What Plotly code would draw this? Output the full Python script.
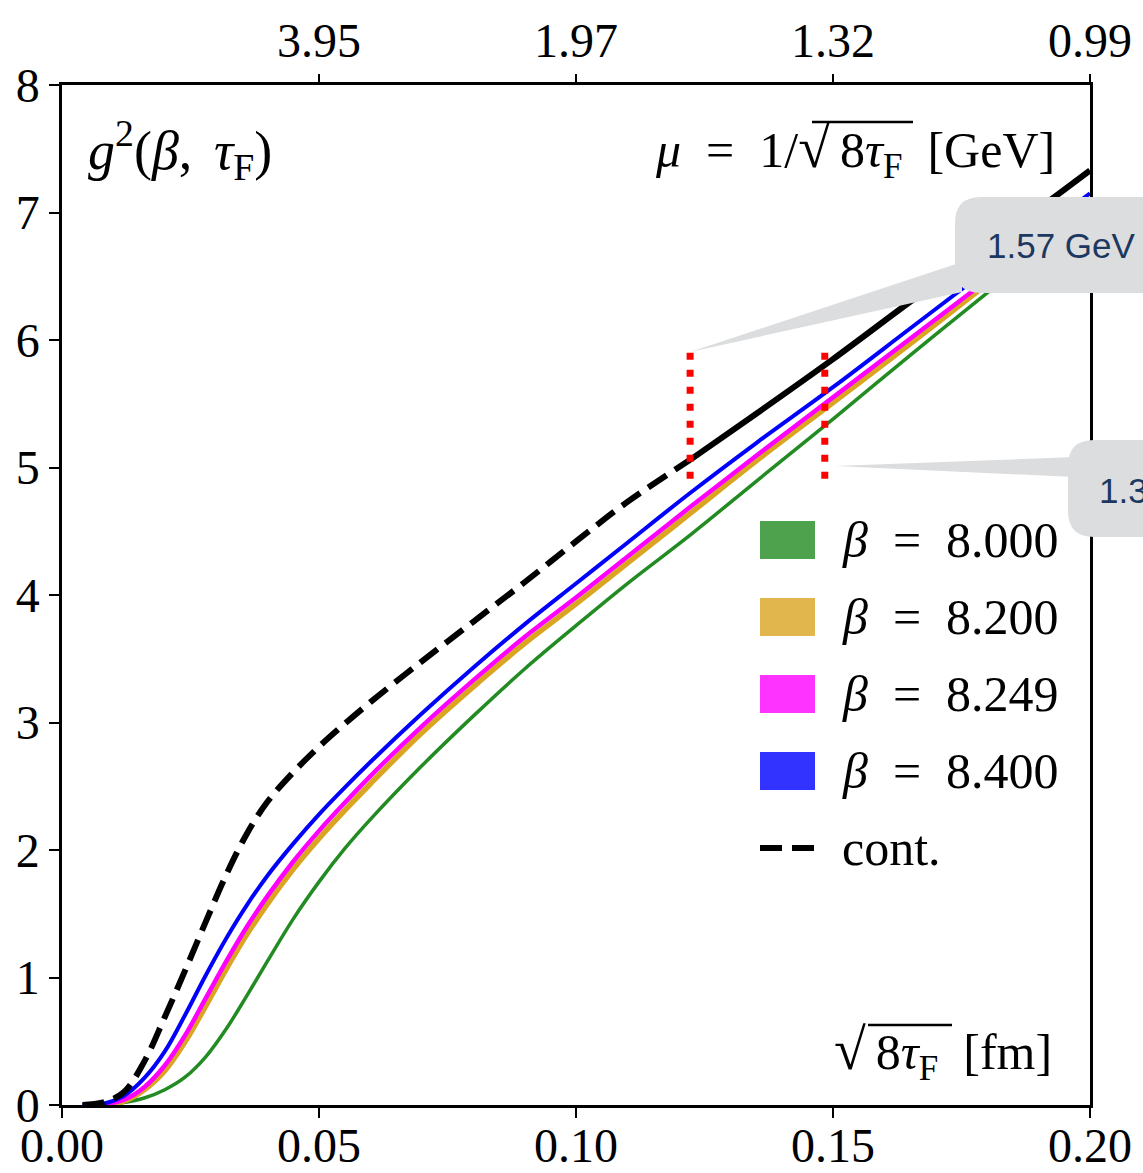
import plotly.graph_objects as go

# ---------------- data ----------------
tau_x = [0.004, 0.008, 0.012, 0.016, 0.020, 0.024, 0.028, 0.032, 0.036, 0.040,
         0.045, 0.050, 0.055, 0.060, 0.070, 0.080, 0.090, 0.100, 0.110, 0.1222,
         0.135, 0.150, 0.165, 0.180, 0.190, 0.200]

g2_b8000 = [0.0, 0.004, 0.02, 0.055, 0.12, 0.22, 0.38, 0.60, 0.86, 1.13,
            1.46, 1.75, 2.01, 2.24, 2.66, 3.05, 3.42, 3.76, 4.09, 4.47,
            4.89, 5.38, 5.88, 6.37, 6.70, 7.02]
g2_b8200 = [0.0, 0.004, 0.03, 0.12, 0.27, 0.50, 0.78, 1.07, 1.34, 1.58,
            1.85, 2.09, 2.31, 2.52, 2.92, 3.28, 3.62, 3.93, 4.25, 4.64,
            5.05, 5.51, 5.97, 6.44, 6.75, 7.06]
g2_b8249 = [0.0, 0.005, 0.04, 0.14, 0.31, 0.55, 0.84, 1.13, 1.40, 1.64,
            1.91, 2.15, 2.37, 2.58, 2.97, 3.33, 3.67, 3.98, 4.30, 4.69,
            5.09, 5.55, 6.01, 6.47, 6.78, 7.09]
g2_b8400 = [0.0, 0.01, 0.07, 0.21, 0.42, 0.71, 1.02, 1.31, 1.57, 1.80,
            2.05, 2.28, 2.49, 2.69, 3.07, 3.43, 3.77, 4.09, 4.41, 4.80,
            5.19, 5.63, 6.09, 6.55, 6.85, 7.15]

cont_x_dashed = [0.004, 0.008, 0.012, 0.016, 0.020, 0.024, 0.028, 0.032, 0.036, 0.040,
                 0.045, 0.050, 0.055, 0.060, 0.070, 0.080, 0.090, 0.100, 0.110, 0.1222]
cont_y_dashed = [0.0, 0.02, 0.10, 0.34, 0.69, 1.06, 1.44, 1.81, 2.13, 2.38,
                 2.61, 2.81, 2.99, 3.16, 3.48, 3.79, 4.10, 4.42, 4.73, 5.06]
cont_x_solid = [0.1222, 0.135, 0.150, 0.165, 0.180, 0.190, 0.200]
cont_y_solid = [5.06, 5.42, 5.85, 6.30, 6.74, 7.03, 7.33]

marker_x = [0.1222, 0.1484]          # red dotted markers
marker_y = [4.85, 5.90]

series_labels = ["8.000", "8.200", "8.249", "8.400"]
series_colors = ["#228B22", "#DAA520", "#FF00FF", "#0000FF"]
patch_colors = ["rgba(34,139,34,0.8)", "rgba(218,165,32,0.8)",
                "rgba(255,0,255,0.8)", "rgba(0,0,255,0.8)"]
series_widths = [3.5, 5.5, 4.5, 4]
series_values = [g2_b8000, g2_b8200, g2_b8249, g2_b8400]

bottom_ticks = [0.00, 0.05, 0.10, 0.15, 0.20]
bottom_ticktext = ["0.00", "0.05", "0.10", "0.15", "0.20"]
top_ticks = [0.05, 0.10, 0.15, 0.20]
top_ticktext = ["3.95", "1.97", "1.32", "0.99"]
y_ticks = [0, 1, 2, 3, 4, 5, 6, 7, 8]

callout_text = ["1.57 GeV", "1.33 GeV"]

# ---------------- layout helpers (pixel -> paper) ----------------
L, R, T, B = 62, 1090, 85, 1105
def PX(px):
    return (px - L) / (R - L)
def PY(py):
    return (B - py) / (B - T)

SERIF = "Liberation Serif"
FS = 48
EN = "\u2002"
TH = "\u2009"

fig = go.Figure()

for lab, col, w, vals in zip(series_labels, series_colors, series_widths, series_values):
    fig.add_trace(go.Scatter(x=tau_x, y=vals, mode="lines", name="β = " + lab,
                             line=dict(color=col, width=w, shape="spline", smoothing=1.0),
                             showlegend=False))

fig.add_trace(go.Scatter(x=cont_x_dashed, y=cont_y_dashed, mode="lines", name="cont.",
                         line=dict(color="black", width=6, dash="22px,10px",
                                   shape="spline", smoothing=1.0),
                         showlegend=False))
fig.add_trace(go.Scatter(x=cont_x_solid, y=cont_y_solid, mode="lines", name="cont. (solid)",
                         line=dict(color="black", width=6, shape="spline", smoothing=1.0),
                         showlegend=False))

for mx in marker_x:
    fig.add_trace(go.Scatter(x=[mx, mx], y=marker_y[::-1], mode="lines",
                             line=dict(color="#FF0000", width=7, dash="7px,10px"),
                             showlegend=False, hoverinfo="skip"))

# invisible trace to anchor the top axis
fig.add_trace(go.Scatter(x=[top_ticks[0], top_ticks[-1]], y=[None, None], xaxis="x2",
                         mode="lines", showlegend=False, hoverinfo="skip"))

axis_font = dict(family=SERIF, size=FS, color="black")
fig.update_layout(
    width=1143, height=1173,
    margin=dict(l=L, r=1143 - R, t=T, b=1173 - B, autoexpand=False),
    paper_bgcolor="white", plot_bgcolor="white",
    showlegend=False,
    xaxis=dict(range=[0, 0.2], tickvals=bottom_ticks, ticktext=bottom_ticktext,
               showgrid=False, zeroline=False, showline=True, linecolor="black",
               linewidth=2.5, mirror=True, ticks="outside", ticklen=10, tickwidth=2,
               tickcolor="black", tickfont=axis_font, automargin=False,
               ticklabelstandoff=-13),
    xaxis2=dict(range=[0, 0.2], overlaying="x", side="top", tickvals=top_ticks,
                ticktext=top_ticktext, showgrid=False, zeroline=False, showline=False,
                ticks="outside", ticklen=10, tickwidth=2, tickcolor="black",
                tickfont=axis_font, automargin=False, ticklabelstandoff=-2),
    yaxis=dict(range=[0, 8], tickvals=y_ticks, showgrid=False, zeroline=False,
               showline=True, linecolor="black", linewidth=2.5, mirror=True,
               ticks="outside", ticklen=10, tickwidth=2, tickcolor="black",
               tickfont=axis_font, automargin=False),
)

ann = []
shapes = []

# corner labels
ann.append(dict(xref="paper", yref="paper", x=PX(86), y=PY(150), xanchor="left",
                yanchor="middle", showarrow=False,
                text="<i>g</i><sup>2</sup>(<i>β</i>," + TH + TH + "<i>τ</i><sub>F</sub>)",
                font=dict(family=SERIF, size=54, color="black")))
ann.append(dict(xref="paper", yref="paper", x=PX(1057), y=PY(150), xanchor="right",
                yanchor="middle", showarrow=False,
                text="<i>μ</i>" + EN + "=" + EN + "1/<span style='font-size:58px'>√</span>"
                     + TH + "8<i>τ</i><sub>F</sub>" + EN + "[GeV]",
                font=dict(family=SERIF, size=50, color="black")))
ann.append(dict(xref="paper", yref="paper", x=PX(1054), y=PY(1052), xanchor="right",
                yanchor="middle", showarrow=False,
                text="<span style='font-size:58px'>√</span>" + TH
                     + "8<i>τ</i><sub>F</sub>" + EN + "[fm]",
                font=dict(family=SERIF, size=50, color="black")))
# vinculum bars of the square roots
shapes.append(dict(type="line", xref="paper", yref="paper", x0=PX(812), x1=PX(913),
                   y0=PY(122), y1=PY(122), line=dict(color="black", width=2.5)))
shapes.append(dict(type="line", xref="paper", yref="paper", x0=PX(868), x1=PX(952),
                   y0=PY(1025), y1=PY(1025), line=dict(color="black", width=2.5)))

# manual legend
row_y = [540, 617, 694, 771, 848]
for i, (lab, pc) in enumerate(zip(series_labels, patch_colors)):
    yc = row_y[i]
    shapes.append(dict(type="rect", xref="paper", yref="paper", x0=PX(760), x1=PX(815),
                       y0=PY(yc + 19), y1=PY(yc - 19), fillcolor=pc, line=dict(width=0)))
    ann.append(dict(xref="paper", yref="paper", x=PX(840), y=PY(yc), xanchor="left",
                    yanchor="middle", showarrow=False,
                    text="<i>β</i>" + EN + "=" + EN + lab,
                    font=dict(family=SERIF, size=50, color="black")))
shapes.append(dict(type="line", xref="paper", yref="paper", x0=PX(760), x1=PX(815),
                   y0=PY(row_y[4]), y1=PY(row_y[4]),
                   line=dict(color="black", width=6, dash="22px,10px")))
ann.append(dict(xref="paper", yref="paper", x=PX(840), y=PY(row_y[4]), xanchor="left",
                yanchor="middle", showarrow=False, text="cont.",
                font=dict(family=SERIF, size=50, color="black")))

# callouts
def rrect(x0, y0, x1, y1, r):
    a, b, c, d = PX(x0), PX(x1), PY(y0), PY(y1)
    rx = r / (R - L)
    ry = r / (B - T)
    return (f"M{a+rx},{c} L{b-rx},{c} Q{b},{c} {b},{c-ry} L{b},{d+ry} Q{b},{d} {b-rx},{d} "
            f"L{a+rx},{d} Q{a},{d} {a},{d+ry} L{a},{c-ry} Q{a},{c} {a+rx},{c} Z")

GREY = "#DCDDDF"
boxes = [(955, 197, 1190, 293), (1068, 440, 1300, 537)]
wedges = [[(690, 352), (962, 262), (962, 292)], [(835, 466), (1075, 457), (1075, 477)]]
text_pos = [(985, 245), (1097, 490)]
for (bx0, by0, bx1, by1), wd, (tx, ty), txt in zip(boxes, wedges, text_pos, callout_text):
    p = "M" + " L".join(f"{PX(a)},{PY(b)}" for a, b in wd) + " Z"
    shapes.append(dict(type="path", xref="paper", yref="paper", path=p,
                       fillcolor=GREY, line=dict(width=0)))
    shapes.append(dict(type="path", xref="paper", yref="paper",
                       path=rrect(bx0, by0, bx1, by1, 26), fillcolor=GREY, line=dict(width=0)))
    ann.append(dict(xref="paper", yref="paper", x=PX(tx), y=PY(ty), xanchor="left",
                    yanchor="middle", showarrow=False, text=txt,
                    font=dict(family="Liberation Sans", size=35, color="#1C3860")))

fig.update_layout(annotations=ann, shapes=shapes)
fig.write_html("out.html")
